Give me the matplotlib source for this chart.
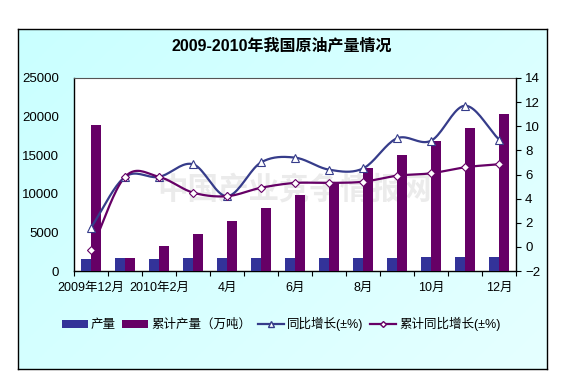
import numpy as np
import matplotlib
matplotlib.use("Agg")
import matplotlib.pyplot as plt
from matplotlib.patches import Patch
from matplotlib.lines import Line2D

plt.rcParams['font.family'] = ['Liberation Sans', 'Noto Sans CJK SC', 'DejaVu Sans']

# ---------------- data ----------------
categories = ['2009年12月', '2010年1月', '2010年2月', '3月', '4月', '5月', '6月',
              '7月', '8月', '9月', '10月', '11月', '12月']
monthly = [1560, 1650, 1520, 1660, 1650, 1660, 1650, 1660, 1650, 1660, 1790, 1800, 1780]
cumulative = [18949, 1650, 3240, 4830, 6480, 8160, 9840, 11440, 13300, 15030, 16840, 18520, 20340]
yoy = [1.6, 5.8, 5.8, 6.85, 4.2, 7.0, 7.4, 6.4, 6.5, 9.0, 8.8, 11.7, 8.9]
cum_yoy = [-0.3, 5.8, 5.8, 4.5, 4.2, 4.9, 5.3, 5.3, 5.4, 5.9, 6.1, 6.6, 6.85]
title = '2009-2010年我国原油产量情况'
legend_labels = ['产量', '累计产量（万吨）', '同比增长(±%)', '累计同比增长(±%)']
watermark = '中国产业竞争情报网'

c_month = '#333399'
c_cum = '#660066'
c_yoy = '#363C8A'
c_cumyoy = '#660066'


def smooth(xs, ys, n=20):
    xs = np.asarray(xs, float)
    ys = np.asarray(ys, float)
    P = np.column_stack([xs, ys])
    P = np.vstack([P[0] - (P[1] - P[0]), P, P[-1] + (P[-1] - P[-2])])
    out = []
    t = np.linspace(0, 1, n, endpoint=False)[:, None]
    for i in range(1, len(P) - 2):
        p0, p1, p2, p3 = P[i - 1], P[i], P[i + 1], P[i + 2]
        seg = 0.5 * ((2 * p1) + (-p0 + p2) * t + (2 * p0 - 5 * p1 + 4 * p2 - p3) * t ** 2
                     + (-p0 + 3 * p1 - 3 * p2 + p3) * t ** 3)
        out.append(seg)
    out.append(P[-2][None, :])
    out = np.vstack(out)
    return out[:, 0], out[:, 1]


W, H = 573, 380
fig = plt.figure(figsize=(W / 100, H / 100), dpi=100)
fig.patch.set_facecolor('white')

# frame with gradient background
fx0, fy0, fx1, fy1 = 18, 29, 547, 369
bg = fig.add_axes([fx0 / W, 1 - fy1 / H, (fx1 - fx0) / W, (fy1 - fy0) / H])
gx = np.linspace(0, 1, 200)[None, :]
gy = np.linspace(0, 1, 120)[:, None]
g = np.clip(0.6 * gx + 0.4 * gy, 0, 1)
c0 = np.array([0.79, 1.0, 1.0])
c1 = np.array([0.90, 1.0, 1.0])
img = c0[None, None, :] * (1 - g[..., None]) + c1[None, None, :] * g[..., None]
bg.imshow(img, aspect='auto', extent=[0, 1, 0, 1], origin='upper')
bg.set_xlim(0, 1)
bg.set_ylim(0, 1)
bg.set_xticks([])
bg.set_yticks([])
for s in bg.spines.values():
    s.set_color('black')
    s.set_linewidth(1.0)

# main plot
px0, py0, px1, py1 = 74, 78, 516, 271
ax = fig.add_axes([px0 / W, 1 - py1 / H, (px1 - px0) / W, (py1 - py0) / H])
ax.set_zorder(2)
ax.set_facecolor('white')
x = np.arange(len(categories))
bw = 0.28
ax.bar(x - bw / 2, monthly, bw, color=c_month, zorder=3)
ax.bar(x + bw / 2, cumulative, bw, color=c_cum, zorder=3)
ax.set_xlim(-0.5, len(categories) - 0.5)
ax.set_ylim(0, 25000)
ax.set_yticks(np.arange(0, 25001, 5000))
ax.set_xticks(np.arange(-0.5, len(categories), 1))
ax.set_xticklabels([])
ax.set_xticks(x[::2], minor=True)
ax.set_xticklabels(categories[::2], minor=True)
ax.tick_params(axis='x', which='minor', length=0, pad=8, labelsize=9)
ax.tick_params(axis='x', which='major', direction='out', length=3.5, width=0.8)
ax.tick_params(axis='y', direction='out', length=0, labelsize=9.5, pad=11)
ax.text(0.5, 0.42, watermark, transform=ax.transAxes, ha='center', va='center',
        fontsize=22, fontweight='bold', color='#ebebeb', zorder=1,
        family=['Noto Sans CJK SC'])
for k in ['left', 'bottom']:
    ax.spines[k].set_color('black')
    ax.spines[k].set_linewidth(1.0)
ax.spines['top'].set_color('#555555')
ax.spines['top'].set_linewidth(0.8)
ax.spines['right'].set_visible(False)

ax2 = ax.twinx()
ax2.set_ylim(-2, 14)
ax2.set_yticks(np.arange(-2, 15, 2))
ax2.tick_params(axis='y', direction='out', length=3.5, width=0.8, labelsize=9.5, pad=3)
ax2.spines['right'].set_color('black')
ax2.spines['right'].set_linewidth(1.0)
for k in ['left', 'top', 'bottom']:
    ax2.spines[k].set_visible(False)

sx, sy = smooth(x, yoy)
ax2.plot(sx, sy, color=c_yoy, lw=1.6, zorder=4)
ax2.plot(x, yoy, ls='none', marker='^', ms=5.5, mfc='white', mec=c_yoy, mew=0.8, zorder=5)
sx, sy = smooth(x, cum_yoy)
ax2.plot(sx, sy, color=c_cumyoy, lw=1.6, zorder=4)
ax2.plot(x, cum_yoy, ls='none', marker='D', ms=4, mfc='white', mec=c_cumyoy, mew=0.8, zorder=5)

fig.text(282 / W, 1 - 46 / H, title, ha='center', va='center', fontsize=11.5,
         fontweight='bold')

handles = [Patch(facecolor=c_month, edgecolor='none'),
           Patch(facecolor=c_cum, edgecolor='none'),
           Line2D([], [], color=c_yoy, lw=1.6, marker='^', ms=4, mfc='white', mec=c_yoy),
           Line2D([], [], color=c_cumyoy, lw=1.6, marker='D', ms=3, mfc='white', mec=c_cumyoy)]
fig.legend(handles, legend_labels, loc='center', bbox_to_anchor=(281 / W, 1 - 324 / H),
           ncol=4, frameon=False, fontsize=9, handlelength=2.1, handletextpad=0.25,
           columnspacing=0.5, handleheight=0.6)

fig.savefig('out.png', dpi=100, facecolor=fig.get_facecolor())
